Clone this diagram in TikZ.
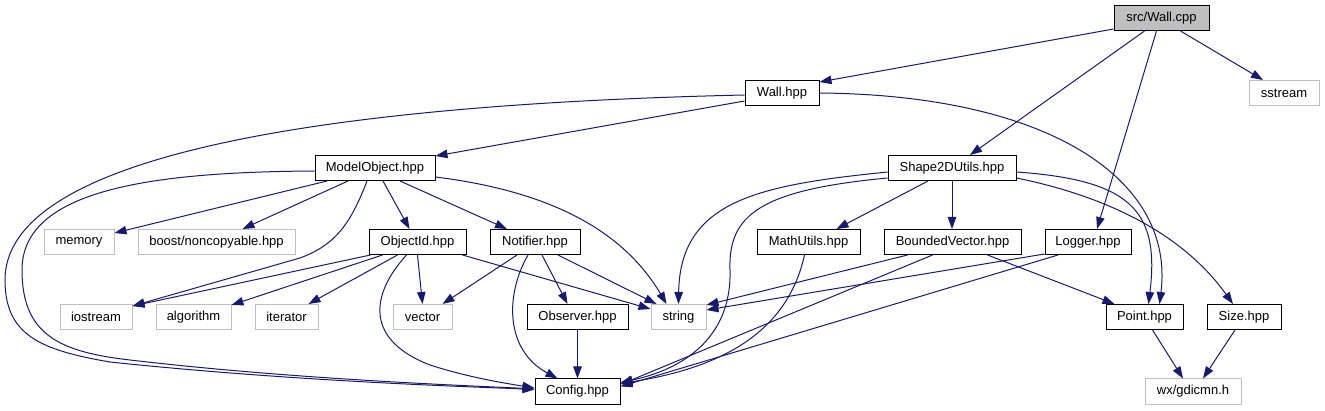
\documentclass[tikz,border=0pt]{standalone}
\usepackage{fontspec}
\setmainfont{Liberation Sans}
\usetikzlibrary{arrows.meta}
\definecolor{edgec}{RGB}{25,25,112}
\definecolor{greyb}{RGB}{191,191,191}
\begin{document}
\begin{tikzpicture}[x=1pt,y=-1pt,
  box/.style={draw=black,line width=1pt,fill=white,inner sep=0pt,minimum height=25pt,font=\fontsize{13}{15}\selectfont,text=black},
  sys/.style={box,draw=greyb},
  root/.style={box,fill=greyb},
  edge/.style={draw=edgec,line width=1pt,-{Triangle[length=12pt,width=8.5pt]}}]
\useasboundingbox (0,0) rectangle (1325,411);
% nodes
\node[root,minimum width=95pt] (wallcpp) at (1161.5,18) {src/Wall.cpp};
\node[sys,minimum width=70pt] (sstream) at (1284,93) {sstream};
\node[box,minimum width=74pt] (wallhpp) at (782,93) {Wall.hpp};
\node[box,minimum width=120pt] (mo) at (375,168) {ModelObject.hpp};
\node[box,minimum width=128pt] (shape) at (952,168) {Shape2DUtils.hpp};
\node[sys,minimum width=70pt] (memory) at (79,242) {memory};
\node[sys,minimum width=157pt] (boost) at (216.5,242) {boost/noncopyable.hpp};
\node[box,minimum width=97pt] (objid) at (417.5,242) {ObjectId.hpp};
\node[box,minimum width=90pt] (notifier) at (535,242) {Notifier.hpp};
\node[box,minimum width=103pt] (mathutils) at (808.5,242) {MathUtils.hpp};
\node[box,minimum width=137pt] (bounded) at (952.5,242) {BoundedVector.hpp};
\node[box,minimum width=86pt] (logger) at (1088,242) {Logger.hpp};
\node[sys,minimum width=72pt] (iostream) at (96,317) {iostream};
\node[sys,minimum width=75pt] (algorithm) at (193.5,317) {algorithm};
\node[sys,minimum width=63pt] (iterator) at (286.5,317) {iterator};
\node[sys,minimum width=59pt] (vector) at (422.5,317) {vector};
\node[box,minimum width=101pt] (observer) at (577.5,317) {Observer.hpp};
\node[sys,minimum width=55pt] (string) at (678.5,317) {string};
\node[box,minimum width=77pt] (point) at (1144.5,317) {Point.hpp};
\node[box,minimum width=74pt] (size) at (1244,317) {Size.hpp};
\node[box,minimum width=85pt] (config) at (577.5,391.5) {Config.hpp};
\node[sys,minimum width=96pt] (wx) at (1193,391.5) {wx/gdicmn.h};
% edges
\draw[edge] ([yshift=-11pt]wallcpp.west) -- ([yshift=11pt]wallhpp.east);
\draw[edge] ([xshift=-17pt]wallcpp.south) -- ([xshift=18pt]shape.north);
\draw[edge] ([xshift=-5pt]wallcpp.south) -- ([xshift=9pt]logger.north);
\draw[edge] ([xshift=19pt]wallcpp.south) -- ([xshift=-21pt]sstream.north);
\draw[edge] ([yshift=-8pt]wallhpp.west) -- ([yshift=12pt]mo.east);
\draw[edge] ([yshift=-2pt]wallhpp.west) .. controls (300,105) and (5,160) .. (5,280)
   .. controls (5,335) and (40,350) .. (110,362) .. controls (300,382) and (480,387) .. ([yshift=2pt]config.west);
\draw[edge] (wallhpp.east) .. controls (1050,95) and (1175,180) .. ([xshift=15pt]point.north);
\draw[edge] ([yshift=-3pt]mo.west) .. controls (150,172) and (22,190) .. (22,270)
   .. controls (22,335) and (60,352) .. (130,360) .. controls (300,380) and (480,386) .. ([yshift=2.5pt]config.west);
\draw[edge] ([xshift=-48pt]mo.south) -- ([yshift=9pt]memory.east);
\draw[edge] ([xshift=-27pt]mo.south) -- ([xshift=26pt]boost.north);
\draw[edge] ([xshift=-8pt]mo.south) .. controls (350,225) and (335,245) .. (300,258) -- ([yshift=11pt]iostream.east);
\draw[edge] ([xshift=8pt]mo.south) -- ([xshift=-8pt]objid.north);
\draw[edge] ([xshift=25pt]mo.south) -- ([xshift=-28pt]notifier.north);
\draw[edge] ([yshift=-9pt]mo.east) .. controls (540,190) and (620,225) .. ([xshift=-12pt]string.north);
\draw[edge] ([xshift=-47pt]objid.south) -- ([yshift=11pt]iostream.east);
\draw[edge] ([xshift=-35pt]objid.south) -- ([yshift=12pt]algorithm.east);
\draw[edge] ([xshift=-20pt]objid.south) -- ([xshift=22pt]iterator.north);
\draw[edge] (objid.south) -- (vector.north);
\draw[edge] ([xshift=-11pt]objid.south) .. controls (370,295) and (365,340) .. (430,365)
   .. controls (470,378) and (510,384) .. ([yshift=3.5pt]config.west);
\draw[edge] ([xshift=45pt]objid.south) -- ([yshift=8pt]string.west);
\draw[edge] ([xshift=-18pt]notifier.south) -- ([xshift=20pt]vector.north);
\draw[edge] ([xshift=-7pt]notifier.south) .. controls (505,295) and (505,350) .. ([xshift=-20pt]config.north);
\draw[edge] ([xshift=7pt]notifier.south) -- ([xshift=-10pt]observer.north);
\draw[edge] ([xshift=23pt]notifier.south) -- ([xshift=-22pt]string.north);
\draw[edge] (observer.south) -- (config.north);
\draw[edge] ([yshift=-4pt]shape.west) .. controls (760,185) and (680,200) .. (string.north);
\draw[edge] ([yshift=-10pt]shape.west) .. controls (760,190) and (728,215) .. (730,270)
   .. controls (732,340) and (680,370) .. ([yshift=9pt]config.east);
\draw[edge] ([xshift=-24pt]shape.south) -- ([xshift=28pt]mathutils.north);
\draw[edge] (shape.south) -- (shape.south |- bounded.north);
\draw[edge] ([yshift=-4pt]shape.east) .. controls (1130,180) and (1160,210) .. ([xshift=4pt]point.north);
\draw[edge] ([yshift=-10pt]shape.east) .. controls (1100,195) and (1180,230) .. ([xshift=-11pt]size.north);
\draw[edge] ([xshift=-4pt]mathutils.south) .. controls (790,320) and (740,365) .. ([yshift=8pt]config.east);
\draw[edge] ([xshift=-45pt]bounded.south) -- ([yshift=12pt]string.east);
\draw[edge] ([xshift=-20pt]bounded.south) -- ([yshift=7pt]config.east);
\draw[edge] ([xshift=35pt]bounded.south) -- ([xshift=-30pt]point.north);
\draw[edge] ([yshift=-12pt]logger.west) -- ([yshift=7pt]string.east);
\draw[edge] ([xshift=-30pt]logger.south) -- ([yshift=5pt]config.east);
\draw[edge] ([xshift=8pt]point.south) -- ([xshift=-10pt]wx.north);
\draw[edge] ([xshift=-9pt]size.south) -- ([xshift=10pt]wx.north);
\end{tikzpicture}
\end{document}
